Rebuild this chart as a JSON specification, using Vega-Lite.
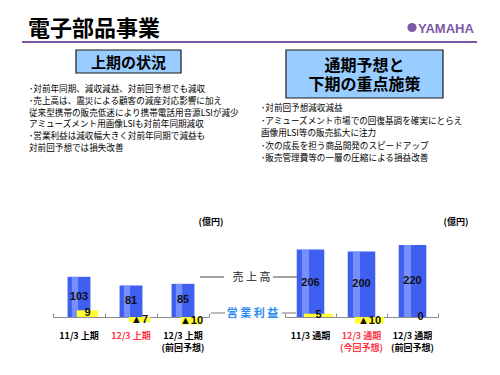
{
  "$schema": "https://vega.github.io/schema/vega-lite/v6.json",
  "width": 500,
  "height": 317,
  "autosize": {"type": "none"},
  "padding": {"left": 0, "top": 0, "right": 0, "bottom": 58},
  "background": "white",
  "config": {"view": {"stroke": null}, "text": {"font": "Noto Sans CJK JP"}},
  "datasets": {
    "segments": [
      {"period": "11/3 上期", "half": "上期", "sales": 103, "op": 9, "opLabel": "9"},
      {"period": "12/3 上期", "half": "上期", "sales": 81, "op": -7, "opLabel": "▲7"},
      {"period": "12/3 上期\n(前回予想)", "half": "上期", "sales": 85, "op": -10, "opLabel": "▲10"},
      {"period": "11/3 通期", "half": "通期", "sales": 206, "op": 5, "opLabel": "5"},
      {"period": "12/3 通期\n(今回予想)", "half": "通期", "sales": 200, "op": -10, "opLabel": "▲10"},
      {"period": "12/3 通期\n(前回予想)", "half": "通期", "sales": 220, "op": 0, "opLabel": "0"}
    ]
  },
  "layer": [
    {
      "data": {"values": [{"k": "title", "text": "電子部品事業"}]},
      "mark": {"type": "text", "align": "left", "baseline": "middle", "fontSize": 22, "fontWeight": "bold", "color": "#000000"},
      "encoding": {
        "x": {"field": "k", "type": "nominal", "bandPosition": 0, "scale": {"type": "band", "range": [28, 160], "paddingInner": 0, "paddingOuter": 0}, "axis": null},
        "y": {"field": "k", "type": "nominal", "scale": {"type": "band", "range": [19, 39], "paddingInner": 0, "paddingOuter": 0}, "axis": null},
        "text": {"field": "text"}
      }
    },
    {
      "data": {"values": [{"k": "underline"}]},
      "mark": {"type": "rect", "color": "#7e57a8"},
      "encoding": {
        "x": {"field": "k", "type": "nominal", "scale": {"type": "band", "range": [22, 477], "paddingInner": 0, "paddingOuter": 0}, "axis": null},
        "y": {"field": "k", "type": "nominal", "scale": {"type": "band", "range": [41, 43], "paddingInner": 0, "paddingOuter": 0}, "axis": null}
      }
    },
    {
      "data": {"values": [{"k": "emblem"}]},
      "mark": {"type": "point", "shape": "circle", "filled": true, "size": 85, "color": "#7e57a8", "opacity": 1},
      "encoding": {
        "x": {"field": "k", "type": "nominal", "scale": {"type": "band", "range": [407, 417], "paddingInner": 0, "paddingOuter": 0}, "axis": null},
        "y": {"field": "k", "type": "nominal", "scale": {"type": "band", "range": [23, 32], "paddingInner": 0, "paddingOuter": 0}, "axis": null}
      }
    },
    {
      "data": {"values": [{"k": "logo", "text": "YAMAHA"}]},
      "mark": {"type": "text", "align": "left", "baseline": "middle", "fontSize": 13, "fontWeight": "bold", "font": "Liberation Sans", "color": "#7e57a8"},
      "encoding": {
        "x": {"field": "k", "type": "nominal", "bandPosition": 0, "scale": {"type": "band", "range": [418, 478], "paddingInner": 0, "paddingOuter": 0}, "axis": null},
        "y": {"field": "k", "type": "nominal", "scale": {"type": "band", "range": [24, 33], "paddingInner": 0, "paddingOuter": 0}, "axis": null},
        "text": {"field": "text"}
      }
    },
    {
      "data": {"values": [{"k": "上期の状況"}]},
      "mark": {"type": "rect", "fill": "#99ccff", "stroke": "#1a1a1a", "strokeWidth": 1.2},
      "encoding": {
        "x": {"field": "k", "type": "nominal", "scale": {"type": "band", "range": [76, 181], "paddingInner": 0, "paddingOuter": 0}, "axis": null},
        "y": {"field": "k", "type": "nominal", "scale": {"type": "band", "range": [50, 73], "paddingInner": 0, "paddingOuter": 0}, "axis": null}
      }
    },
    {
      "data": {"values": [{"k": "上期の状況"}]},
      "mark": {"type": "text", "fontSize": 15, "fontWeight": "bold", "baseline": "middle", "color": "#000000"},
      "encoding": {
        "x": {"field": "k", "type": "nominal", "scale": {"type": "band", "range": [76, 181], "paddingInner": 0, "paddingOuter": 0}, "axis": null},
        "y": {"field": "k", "type": "nominal", "scale": {"type": "band", "range": [51, 74], "paddingInner": 0, "paddingOuter": 0}, "axis": null},
        "text": {"field": "k"}
      }
    },
    {
      "data": {"values": [{"k": "通期予想と\n下期の重点施策"}]},
      "mark": {"type": "rect", "fill": "#99ccff", "stroke": "#1a1a1a", "strokeWidth": 1.2},
      "encoding": {
        "x": {"field": "k", "type": "nominal", "scale": {"type": "band", "range": [286, 443], "paddingInner": 0, "paddingOuter": 0}, "axis": null},
        "y": {"field": "k", "type": "nominal", "scale": {"type": "band", "range": [50, 98], "paddingInner": 0, "paddingOuter": 0}, "axis": null}
      }
    },
    {
      "data": {"values": [{"k": "通期予想と\n下期の重点施策"}]},
      "mark": {"type": "text", "fontSize": 16, "fontWeight": "bold", "baseline": "middle", "lineBreak": "\n", "lineHeight": 19.5, "color": "#000000"},
      "encoding": {
        "x": {"field": "k", "type": "nominal", "scale": {"type": "band", "range": [286, 443], "paddingInner": 0, "paddingOuter": 0}, "axis": null},
        "y": {"field": "k", "type": "nominal", "scale": {"type": "band", "range": [55.5, 75.5], "paddingInner": 0, "paddingOuter": 0}, "axis": null},
        "text": {"field": "k"}
      }
    },
    {
      "data": {"values": [
        {"blk": "上期", "line": 1, "text": "･対前年同期、減収減益、対前回予想でも減収"},
        {"blk": "上期", "line": 2, "text": "･売上高は、震災による顧客の減産対応影響に加え"},
        {"blk": "上期", "line": 3, "text": "\u2004\u2004従来型携帯の販売低迷により携帯電話用音源LSIが減少"},
        {"blk": "上期", "line": 4, "text": "\u2004\u2004アミューズメント用画像LSIも対前年同期減収"},
        {"blk": "上期", "line": 5, "text": "･営業利益は減収幅大きく対前年同期で減益も"},
        {"blk": "上期", "line": 6, "text": "\u2004\u2004対前回予想では損失改善"}
      ]},
      "mark": {"type": "text", "align": "left", "baseline": "middle", "fontSize": 8.6, "color": "#000000"},
      "encoding": {
        "x": {"field": "blk", "type": "nominal", "bandPosition": 0, "scale": {"type": "band", "range": [29, 250], "paddingInner": 0, "paddingOuter": 0}, "axis": null},
        "y": {"field": "line", "type": "ordinal", "scale": {"type": "point", "range": [89, 148], "padding": 0}, "axis": null},
        "text": {"field": "text"}
      }
    },
    {
      "data": {"values": [
        {"blk": "通期", "line": 1, "text": "･対前回予想減収減益"},
        {"blk": "通期", "line": 2, "text": "･アミューズメント市場での回復基調を確実にとらえ"},
        {"blk": "通期", "line": 3, "text": "\u2004\u2004画像用LSI等の販売拡大に注力"},
        {"blk": "通期", "line": 4, "text": "･次の成長を担う商品開発のスピードアップ"},
        {"blk": "通期", "line": 5, "text": "･販売管理費等の一層の圧縮による損益改善"}
      ]},
      "mark": {"type": "text", "align": "left", "baseline": "middle", "fontSize": 8.6, "color": "#000000"},
      "encoding": {
        "x": {"field": "blk", "type": "nominal", "bandPosition": 0, "scale": {"type": "band", "range": [261, 470], "paddingInner": 0, "paddingOuter": 0}, "axis": null},
        "y": {"field": "line", "type": "ordinal", "scale": {"type": "point", "range": [108, 158], "padding": 0}, "axis": null},
        "text": {"field": "text"}
      }
    },
    {
      "data": {"values": [{"k": "上期", "unit": "億円"}, {"k": "通期", "unit": "億円"}]},
      "mark": {"type": "text", "baseline": "middle", "fontSize": 9, "fontWeight": "bold", "color": "#000000"},
      "encoding": {
        "x": {"field": "k", "type": "nominal", "scale": {"type": "point", "range": [211, 456], "padding": 0}, "axis": null},
        "y": {"field": "unit", "type": "nominal", "scale": {"type": "band", "range": [217, 227], "paddingInner": 0, "paddingOuter": 0}, "axis": null},
        "text": {"value": "(億円)"}
      }
    },
    {
      "data": {"values": [{"side": "L", "k": "売上高"}, {"side": "R", "k": "売上高"}]},
      "mark": {"type": "rect", "color": "#444444"},
      "encoding": {
        "x": {"field": "side", "type": "nominal", "scale": {"type": "band", "range": [200, 297], "paddingInner": 0.67, "paddingOuter": 0}, "axis": null},
        "y": {"field": "k", "type": "nominal", "scale": {"type": "band", "range": [276.5, 277.5], "paddingInner": 0, "paddingOuter": 0}, "axis": null}
      }
    },
    {
      "data": {"values": [{"k": "売上高", "text": "売 上 高"}]},
      "mark": {"type": "text", "baseline": "middle", "fontSize": 11, "color": "#222222"},
      "encoding": {
        "x": {"field": "k", "type": "nominal", "scale": {"type": "band", "range": [229, 274], "paddingInner": 0, "paddingOuter": 0}, "axis": null},
        "y": {"field": "k", "type": "nominal", "scale": {"type": "band", "range": [272, 283], "paddingInner": 0, "paddingOuter": 0}, "axis": null},
        "text": {"field": "text"}
      }
    },
    {
      "data": {"values": [{"side": "L", "k": "営業利益"}, {"side": "R", "k": "営業利益"}]},
      "mark": {"type": "rect", "color": "#777777"},
      "encoding": {
        "x": {"field": "side", "type": "nominal", "scale": {"type": "band", "range": [211, 296], "paddingInner": 0.803, "paddingOuter": 0}, "axis": null},
        "y": {"field": "k", "type": "nominal", "scale": {"type": "band", "range": [312.5, 313.5], "paddingInner": 0, "paddingOuter": 0}, "axis": null}
      }
    },
    {
      "data": {"values": [{"k": "営業利益", "text": "営 業 利 益"}]},
      "mark": {"type": "text", "baseline": "middle", "fontSize": 11, "fontWeight": "bold", "color": "#2b8cf0"},
      "encoding": {
        "x": {"field": "k", "type": "nominal", "scale": {"type": "band", "range": [227, 278], "paddingInner": 0, "paddingOuter": 0}, "axis": null},
        "y": {"field": "k", "type": "nominal", "scale": {"type": "band", "range": [308, 319], "paddingInner": 0, "paddingOuter": 0}, "axis": null},
        "text": {"field": "text"}
      }
    },
    {
      "data": {"name": "segments"},
      "transform": [{"filter": "datum.half === '上期'"}],
      "mark": {"type": "bar", "width": {"band": 0.44}, "color": "#3f5ff0"},
      "encoding": {
        "x": {
          "field": "period", "type": "nominal", "sort": null,
          "scale": {"type": "band", "range": [53, 209], "paddingInner": 0, "paddingOuter": 0},
          "axis": {"orient": "bottom", "title": null, "labels": false, "domainColor": "#8c8c8c", "tickColor": "#8c8c8c", "tickBand": "extent", "tickSize": -4, "grid": false}
        },
        "y": {"field": "sales", "type": "quantitative", "scale": {"domain": [0, 813], "range": [317, 0], "nice": false}, "axis": null}
      }
    },
    {
      "data": {"name": "segments"},
      "transform": [{"filter": "datum.half === '通期'"}],
      "mark": {"type": "bar", "width": {"band": 0.54}, "color": "#3f5ff0"},
      "encoding": {
        "x": {
          "field": "period", "type": "nominal", "sort": null,
          "scale": {"type": "band", "range": [285, 438], "paddingInner": 0, "paddingOuter": 0},
          "axis": {"orient": "bottom", "title": null, "labels": false, "domainColor": "#8c8c8c", "tickColor": "#8c8c8c", "tickBand": "extent", "tickSize": -4, "grid": false}
        },
        "y": {"field": "sales", "type": "quantitative", "scale": {"domain": [0, 969], "range": [317, 0], "nice": false}, "axis": null}
      }
    },
    {
      "data": {"name": "segments"},
      "transform": [{"filter": "datum.half === '上期'"}],
      "mark": {"type": "bar", "width": {"band": 0.12}, "color": "#8aa0ff", "opacity": 0.75},
      "encoding": {
        "x": {"field": "period", "type": "nominal", "sort": null, "scale": {"type": "band", "range": [49, 205], "paddingInner": 0, "paddingOuter": 0}, "axis": null},
        "y": {"field": "sales", "type": "quantitative", "scale": {"domain": [0, 813], "range": [317, 0], "nice": false}, "axis": null}
      }
    },
    {
      "data": {"name": "segments"},
      "transform": [{"filter": "datum.half === '通期'"}],
      "mark": {"type": "bar", "width": {"band": 0.14}, "color": "#8aa0ff", "opacity": 0.75},
      "encoding": {
        "x": {"field": "period", "type": "nominal", "sort": null, "scale": {"type": "band", "range": [280, 433], "paddingInner": 0, "paddingOuter": 0}, "axis": null},
        "y": {"field": "sales", "type": "quantitative", "scale": {"domain": [0, 969], "range": [317, 0], "nice": false}, "axis": null}
      }
    },
    {
      "data": {"name": "segments"},
      "transform": [{"filter": "datum.half === '上期'"}],
      "mark": {"type": "text", "fontSize": 11, "fontWeight": "bold", "font": "Liberation Sans", "color": "#111111", "baseline": "middle"},
      "encoding": {
        "x": {"field": "period", "type": "nominal", "sort": null, "scale": {"type": "band", "range": [53, 209], "paddingInner": 0, "paddingOuter": 0}, "axis": null},
        "y": {"field": "sales", "type": "quantitative", "scale": {"domain": [0, 1626], "range": [317, 0], "nice": false}, "axis": null},
        "text": {"field": "sales"}
      }
    },
    {
      "data": {"name": "segments"},
      "transform": [{"filter": "datum.half === '通期'"}],
      "mark": {"type": "text", "fontSize": 11, "fontWeight": "bold", "font": "Liberation Sans", "color": "#111111", "baseline": "middle"},
      "encoding": {
        "x": {"field": "period", "type": "nominal", "sort": null, "scale": {"type": "band", "range": [285, 438], "paddingInner": 0, "paddingOuter": 0}, "axis": null},
        "y": {"field": "sales", "type": "quantitative", "scale": {"domain": [0, 1938], "range": [317, 0], "nice": false}, "axis": null},
        "text": {"field": "sales"}
      }
    },
    {
      "data": {"name": "segments"},
      "transform": [{"filter": "datum.half === '上期'"}],
      "mark": {"type": "bar", "width": {"band": 0.41}, "color": "#ffff33"},
      "encoding": {
        "x": {"field": "period", "type": "nominal", "sort": null, "scale": {"type": "band", "range": [61.5, 217.5], "paddingInner": 0, "paddingOuter": 0}, "axis": null},
        "y": {"field": "op", "type": "quantitative", "scale": {"domain": [0, 423], "range": [317, 0], "nice": false}, "axis": null}
      }
    },
    {
      "data": {"name": "segments"},
      "transform": [{"filter": "datum.half === '通期'"}],
      "mark": {"type": "bar", "width": {"band": 0.57}, "color": "#ffff33"},
      "encoding": {
        "x": {"field": "period", "type": "nominal", "sort": null, "scale": {"type": "band", "range": [293, 446], "paddingInner": 0, "paddingOuter": 0}, "axis": null},
        "y": {"field": "op", "type": "quantitative", "scale": {"domain": [0, 488], "range": [317, 0], "nice": false}, "axis": null}
      }
    },
    {
      "data": {"name": "segments"},
      "transform": [{"filter": "datum.half === '上期'"}],
      "mark": {"type": "text", "fontSize": 11, "fontWeight": "bold", "font": "Liberation Sans", "color": "#111111", "baseline": "middle"},
      "encoding": {
        "x": {"field": "period", "type": "nominal", "sort": null, "scale": {"type": "band", "range": [61.5, 217.5], "paddingInner": 0, "paddingOuter": 0}, "axis": null},
        "y": {"field": "op", "type": "quantitative", "scale": {"domain": [0, 792], "range": [317, 0], "nice": false}, "axis": null},
        "text": {"field": "opLabel"}
      }
    },
    {
      "data": {"name": "segments"},
      "transform": [{"filter": "datum.half === '通期'"}],
      "mark": {"type": "text", "fontSize": 11, "fontWeight": "bold", "font": "Liberation Sans", "color": "#111111", "baseline": "middle"},
      "encoding": {
        "x": {"field": "period", "type": "nominal", "sort": null, "scale": {"type": "band", "range": [293, 446], "paddingInner": 0, "paddingOuter": 0}, "axis": null},
        "y": {"field": "op", "type": "quantitative", "scale": {"domain": [0, 792], "range": [317, 0], "nice": false}, "axis": null},
        "text": {"field": "opLabel"}
      }
    },
    {
      "data": {"name": "segments"},
      "transform": [{"filter": "datum.half === '上期'"}],
      "mark": {"type": "text", "baseline": "top", "lineBreak": "\n", "lineHeight": 12, "fontSize": 9, "fontWeight": "bold"},
      "encoding": {
        "x": {"field": "period", "type": "nominal", "sort": null, "scale": {"type": "band", "range": [53, 209], "paddingInner": 0, "paddingOuter": 0}, "axis": null},
        "y": {"field": "half", "type": "nominal", "bandPosition": 0, "scale": {"type": "band", "range": [332, 344], "paddingInner": 0, "paddingOuter": 0}, "axis": null},
        "text": {"field": "period"},
        "color": {"condition": {"test": "datum.period === '12/3 上期'", "value": "#ff3344"}, "value": "#000000"}
      }
    },
    {
      "data": {"name": "segments"},
      "transform": [{"filter": "datum.half === '通期'"}],
      "mark": {"type": "text", "baseline": "top", "lineBreak": "\n", "lineHeight": 12, "fontSize": 9, "fontWeight": "bold"},
      "encoding": {
        "x": {"field": "period", "type": "nominal", "sort": null, "scale": {"type": "band", "range": [285, 438], "paddingInner": 0, "paddingOuter": 0}, "axis": null},
        "y": {"field": "half", "type": "nominal", "bandPosition": 0, "scale": {"type": "band", "range": [332, 344], "paddingInner": 0, "paddingOuter": 0}, "axis": null},
        "text": {"field": "period"},
        "color": {"condition": {"test": "indexof(datum.period, '今回') >= 0", "value": "#ff3344"}, "value": "#000000"}
      }
    }
  ],
  "resolve": {"scale": {"x": "independent", "y": "independent"}, "axis": {"x": "independent", "y": "independent"}}
}
